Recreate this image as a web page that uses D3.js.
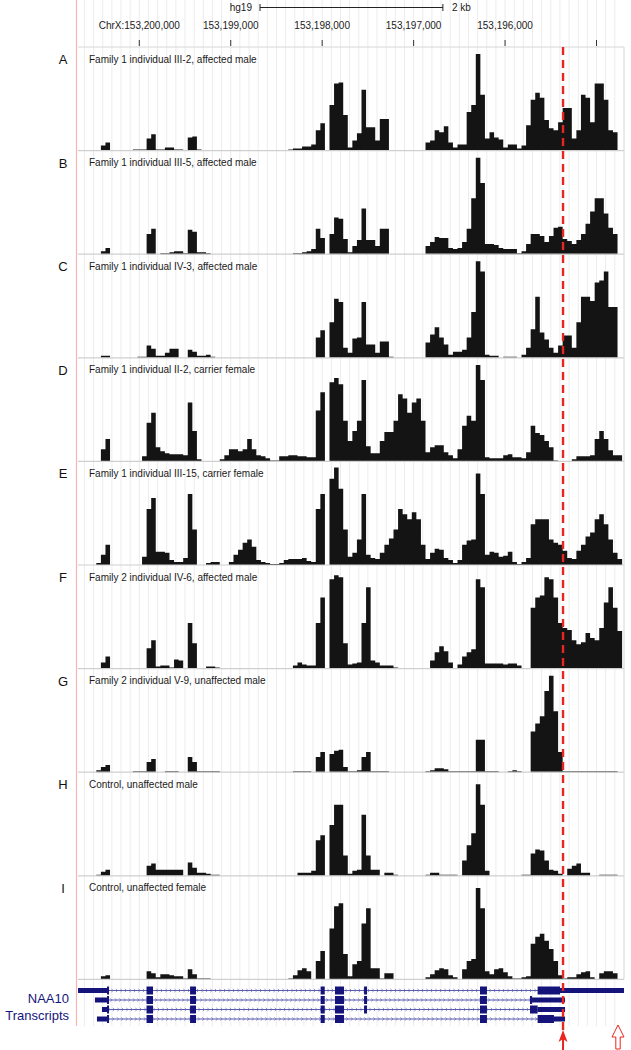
<!DOCTYPE html>
<html>
<head>
<meta charset="utf-8">
<script src="https://cdn.jsdelivr.net/npm/d3@7/dist/d3.min.js"></script>
<style>
  body { margin: 0; background: #fff; }
  text { font-family: "Liberation Sans", Arial, sans-serif; }
</style>
</head>
<body>
<svg id="chart" width="631" height="1050"></svg>
<script>
// coverage bins: 50 bp each, starting at the left edge, genome runs right-to-left
const binStart = 153200670;
const binSize = 50;

const tickPositions = [153200000, 153199000, 153198000, 153197000, 153196000, 153195000];
const tickLabels = ["ChrX:153,200,000", "153,199,000", "153,198,000", "153,197,000", "153,196,000", ""];

const trackLetters = ["A", "B", "C", "D", "E", "F", "G", "H", "I"];
const trackNames = [
    "Family 1 individual III-2, affected male",
    "Family 1 individual III-5, affected male",
    "Family 1 individual IV-3, affected male",
    "Family 1 individual II-2, carrier female",
    "Family 1 individual III-15, carrier female",
    "Family 2 individual IV-6, affected male",
    "Family 2 individual V-9, unaffected  male",
    "Control, unaffected male",
    "Control, unaffected female"
];

// coverage, % of track height
const covA = [0,0,0,0,0,5,8,0,0,0, 0,0,1,1,1,12,16,1,1,3, 3,1,1,0,13,14,1,0,0,0, 0,0,0,0,0,0,0,0,0,0,
    0,0,0,0,0,0,1,2,2,4, 4,6,20,27,0,45,66,67,35,3, 10,17,60,23,23,10,31,31,0,0, 0,0,0,0,0,0,8,10,20,18,
    24,8,3,6,6,38,45,95,55,12, 18,13,11,3,6,6,2,5,25,50, 57,52,30,22,20,28,42,42,12,20, 55,52,28,66,66,50,20,18,0];
const covB = [0,0,0,0,0,3,6,0,0,0, 0,0,0,0,0,20,25,0,1,1, 2,3,3,1,24,22,2,2,1,0, 0,0,0,0,0,0,0,0,0,0,
    0,0,0,0,0,0,0,1,1,2, 3,5,25,16,0,20,36,35,15,2, 8,14,45,14,14,8,25,25,0,0, 0,0,0,0,0,0,8,12,17,16,
    16,6,5,6,12,25,55,95,70,10, 10,9,6,5,5,5,1,3,10,20, 20,18,12,18,26,27,15,13,10,14, 20,30,42,55,55,40,26,20,0];
const covC = [0,0,0,0,0,2,2,0,0,0, 0,0,0,1,1,12,9,2,2,5, 9,9,0,0,8,6,2,2,3,1, 0,0,0,0,0,0,0,0,0,0,
    0,0,0,0,0,0,0,0,0,0, 0,0,20,27,0,35,58,55,10,5, 19,20,55,13,13,5,16,16,1,0, 0,0,0,0,0,0,15,23,30,20,
    13,3,6,6,8,20,45,95,85,3, 2,2,0,1,1,1,0,3,10,28, 60,25,18,10,5,12,22,22,10,35, 60,60,56,74,76,85,50,50,0];
const covD = [0,0,0,0,0,12,22,0,0,0, 0,0,0,0,5,38,48,14,10,8, 7,7,7,6,58,30,2,0,0,0, 0,2,6,12,12,10,12,22,12,6,
    5,3,1,1,5,5,6,6,5,5, 4,4,50,68,0,78,82,76,40,20, 30,40,80,15,8,8,20,29,29,40, 66,62,48,58,62,40,9,14,16,16,
    9,6,3,12,35,45,40,95,80,4, 3,3,3,6,7,4,4,3,9,35, 28,26,20,14,1,0,0,0,2,5, 5,5,6,22,30,22,11,6,6];
const covE = [0,0,0,0,2,10,20,0,0,0, 0,0,0,0,8,55,66,13,13,12, 5,3,3,7,70,35,0,0,2,3, 3,0,0,3,10,15,22,25,18,5,
    3,2,1,1,2,5,6,6,6,7, 4,3,55,70,0,85,96,75,35,8, 12,25,70,10,7,6,12,20,26,35, 55,50,45,52,45,20,6,12,16,15,
    7,5,2,5,20,24,25,90,70,10, 13,12,8,9,13,3,1,3,7,40, 45,45,45,25,22,20,14,7,6,14, 20,28,32,45,50,40,25,12,6];
const covF = [0,0,0,0,0,6,12,0,0,0, 0,0,0,0,0,20,28,2,3,3, 1,9,8,0,45,25,0,0,2,2, 1,0,0,0,0,0,0,0,0,0,
    0,0,0,0,0,0,0,3,6,4, 3,3,45,70,0,88,92,90,25,4, 5,6,45,80,8,6,3,3,3,1, 0,0,0,0,0,0,0,8,16,22,
    17,6,0,4,12,16,19,88,80,5, 5,5,5,4,5,5,3,0,0,60, 70,72,90,88,70,45,40,38,28,24, 26,35,30,28,40,65,80,60,37];
const covG = [0,0,0,0,2,5,7,0,0,0, 0,0,1,1,1,10,13,0,0,1, 1,1,0,0,15,10,1,1,1,1, 1,0,0,0,0,0,0,0,0,0,
    0,0,0,0,0,0,0,1,1,1, 1,0,15,20,0,18,21,22,5,1, 1,2,15,20,1,1,1,1,0,0, 0,0,0,0,0,0,1,2,4,4,
    3,1,1,1,1,1,1,32,32,1, 1,1,0,0,1,2,1,0,0,40, 48,55,80,95,60,20,1,1,1,1, 1,1,1,1,1,1,1,1,0];
const covH = [0,0,0,0,1,4,6,0,0,0, 0,0,0,0,0,10,12,6,6,6, 6,6,6,0,13,8,3,3,2,1, 1,0,0,0,0,0,0,0,0,0,
    0,0,0,0,0,0,0,0,3,3, 3,5,35,40,0,50,70,70,20,2, 5,6,60,20,6,6,0,3,3,1, 0,0,0,0,0,0,1,3,3,1,
    1,1,1,0,15,30,42,90,70,5, 0,0,0,0,0,0,0,1,1,22, 26,25,15,6,5,2,0,7,10,12, 3,3,0,0,1,1,1,1,0];
const covI = [0,0,0,0,0,3,4,0,0,0, 0,0,0,0,0,8,6,2,5,5, 4,3,3,1,10,5,1,1,1,0, 0,0,0,0,0,0,0,0,0,0,
    0,0,0,0,0,0,1,4,9,11, 8,0,18,28,0,50,72,75,25,3, 15,18,55,70,11,11,1,6,6,0, 0,0,0,0,0,0,2,5,9,11,
    10,4,2,0,10,18,20,90,70,8, 5,10,11,7,3,1,1,2,3,35, 42,45,38,30,18,4,1,2,2,5, 7,8,2,0,6,8,8,6,0];
const coverage = [covA, covB, covC, covD, covE, covF, covG, covH, covI];

// NAA10 transcripts: [start, end, kind], kind "c" = coding (tall), "u" = UTR (medium)
const sharedExons = [[153199921, 153199850], [153199445, 153199380], [153198017, 153197972], [153197860, 153197761]];
const tx1 = [[153200670, 153200353, "u"], [153200353, 153200331, "c"], ...sharedExons.map(e => [e[0], e[1], "c"]),
    [153197542, 153197510, "c"], [153196274, 153196198, "c"], [153195644, 153195399, "c"], [153195399, 153194699, "u"]];
const tx2 = [[153200485, 153200353, "u"], [153200353, 153200331, "c"], ...sharedExons.map(e => [e[0], e[1], "c"]),
    [153197542, 153197510, "c"], [153196274, 153196198, "c"], [153195727, 153195705, "c"], [153195705, 153195344, "u"]];
const tx3 = [[153200408, 153200353, "u"], [153200353, 153200331, "c"], ...sharedExons.map(e => [e[0], e[1], "c"]),
    [153197542, 153197510, "c"], [153196274, 153196198, "c"], [153195727, 153195644, "c"], [153195644, 153195344, "u"]];
const tx4 = [[153200463, 153200353, "u"], [153200353, 153200331, "c"], ...sharedExons.map(e => [e[0], e[1], "c"]),
    [153196274, 153196198, "c"], [153195644, 153195465, "c"], [153195465, 153195344, "u"]];
const transcripts = [tx1, tx2, tx3, tx4];

const mutationPos = 153195366;

// layout
const left = 78, right = 624;
const trackTop = 47, trackStep = 103.6;

const svg = d3.select("#chart");

const x = d3.scaleLinear()
    .domain([153200000, 153195000])
    .range([139.3, 596.5]);

// light vertical grid every 100 bp
const gridPos = d3.range(153200600, 153194700, -100);
svg.append("g")
    .selectAll("line")
    .data(gridPos)
    .enter()
    .append("line")
    .attr("x1", d => x(d)).attr("x2", d => x(d))
    .attr("y1", 0).attr("y2", 1026)
    .style("stroke", "#ececec")
    .style("stroke-width", 1);

// pink left rule
svg.append("line")
    .attr("x1", 76.5).attr("x2", 76.5)
    .attr("y1", 0).attr("y2", 1026)
    .style("stroke", "#f4b4b4")
    .style("stroke-width", 1.2);

// header: scale bar
const barLeft = 260;
const barLen = x(153198000) - x(153200000);
svg.append("text")
    .attr("x", barLeft - 8).attr("y", 11)
    .attr("text-anchor", "end")
    .attr("font-size", "10px")
    .style("fill", "#222")
    .text("hg19");
svg.append("line")
    .attr("x1", barLeft).attr("x2", barLeft + barLen)
    .attr("y1", 7.5).attr("y2", 7.5)
    .style("stroke", "#222");
[barLeft, barLeft + barLen].forEach(p => {
    svg.append("line")
        .attr("x1", p).attr("x2", p)
        .attr("y1", 4).attr("y2", 11)
        .style("stroke", "#222");
});
svg.append("text")
    .attr("x", barLeft + barLen + 9).attr("y", 11)
    .attr("font-size", "10px")
    .style("fill", "#222")
    .text("2 kb");

// header: position ticks
const ticks = svg.append("g");
ticks.selectAll("text")
    .data(tickPositions)
    .enter()
    .append("text")
    .attr("x", d => x(d)).attr("y", 29)
    .attr("text-anchor", "middle")
    .attr("font-size", "10px")
    .style("fill", "#222")
    .text((d, i) => tickLabels[i]);
ticks.selectAll("line")
    .data(tickPositions)
    .enter()
    .append("line")
    .attr("x1", d => x(d)).attr("x2", d => x(d))
    .attr("y1", 40).attr("y2", 46)
    .style("stroke", "#333");

// coverage tracks
const area = d3.area()
    .curve(d3.curveStepAfter)
    .x(d => x(d.g));

coverage.forEach((vals, t) => {
    const top = trackTop + t * trackStep;
    const base = top + trackStep;
    const y = d3.scaleLinear().domain([0, 100]).range([base, top + 2]);

    const pts = vals.map((v, i) => ({ g: binStart - i * binSize, v: v }));
    pts.push({ g: binStart - vals.length * binSize, v: 0 });

    const g = svg.append("g").attr("class", "track");

    g.append("path")
        .datum(pts)
        .attr("d", area.y0(base).y1(d => y(d.v)))
        .style("fill", "#141414");

    // frame lines
    if (t === 0) {
        g.append("line")
            .attr("x1", left).attr("x2", right)
            .attr("y1", top).attr("y2", top)
            .style("stroke", "#d6d6d6");
    }
    g.append("line")
        .attr("x1", left).attr("x2", right)
        .attr("y1", base).attr("y2", base)
        .style("stroke", "#cfcfcf")
        .style("stroke-width", 1.2);

    g.append("text")
        .attr("x", 89).attr("y", top + 15.5)
        .attr("font-size", "10px")
        .style("fill", "#1a1a1a")
        .text(trackNames[t]);

    svg.append("text")
        .attr("x", 63).attr("y", top + 17)
        .attr("text-anchor", "middle")
        .attr("font-size", "13px")
        .style("fill", "#111")
        .text(trackLetters[t]);
});

// right frame
svg.append("line")
    .attr("x1", right).attr("x2", right)
    .attr("y1", trackTop).attr("y2", trackTop + 9 * trackStep)
    .style("stroke", "#d6d6d6");

// transcripts
const navy = "#14147a";
const rowY = [990.5, 1000, 1009.5, 1019];
transcripts.forEach((tx, r) => {
    const cy = rowY[r];
    const g = svg.append("g");
    const txL = d3.min(tx, b => x(b[0]));
    const txR = d3.max(tx, b => x(b[1]));

    g.append("line")
        .attr("x1", txL).attr("x2", txR)
        .attr("y1", cy).attr("y2", cy)
        .style("stroke", "#5a5ab0")
        .style("stroke-width", 1);

    // strand chevrons
    const chev = d3.range(txL + 3, txR - 2, 4.5);
    g.selectAll("path.chev")
        .data(chev)
        .enter()
        .append("path")
        .attr("class", "chev")
        .attr("d", d => `M${d - 1.2},${cy - 1.6}L${d + 0.6},${cy}L${d - 1.2},${cy + 1.6}`)
        .style("fill", "none")
        .style("stroke", "#6a6ab8")
        .style("stroke-width", 0.7);

    g.selectAll("rect")
        .data(tx)
        .enter()
        .append("rect")
        .attr("x", b => x(b[0]))
        .attr("width", b => Math.max(1.5, x(b[1]) - x(b[0])))
        .attr("y", b => b[2] === "c" ? cy - 4 : cy - 2.5)
        .attr("height", b => b[2] === "c" ? 8 : 5)
        .style("fill", navy);
});

svg.append("text")
    .attr("x", 69).attr("y", 1003)
    .attr("text-anchor", "end")
    .attr("font-size", "13px")
    .style("fill", navy)
    .text("NAA10");
svg.append("text")
    .attr("x", 69).attr("y", 1020)
    .attr("text-anchor", "end")
    .attr("font-size", "13px")
    .style("fill", navy)
    .text("Transcripts");

// mutation marker: dashed red line and arrow
const mx = x(mutationPos);
svg.append("line")
    .attr("x1", mx).attr("x2", mx)
    .attr("y1", 47).attr("y2", 1031)
    .style("stroke", "#e8251f")
    .style("stroke-width", 2.4)
    .style("stroke-dasharray", "8,5");
svg.append("path")
    .attr("d", `M${mx},1030 L${mx + 4.5},1042 L${mx},1039 L${mx - 4.5},1042 Z`)
    .style("fill", "#e8251f");
svg.append("line")
    .attr("x1", mx).attr("x2", mx)
    .attr("y1", 1038).attr("y2", 1050)
    .style("stroke", "#e8251f")
    .style("stroke-width", 2);

// hollow arrow on the right
const hx = 618;
svg.append("path")
    .attr("d", `M${hx},1025 L${hx + 6},1037 L${hx + 2.2},1037 L${hx + 2.2},1049 L${hx - 2.2},1049 L${hx - 2.2},1037 L${hx - 6},1037 Z`)
    .style("fill", "#fff")
    .style("stroke", "#e8251f")
    .style("stroke-width", 1);
</script>
</body>
</html>
